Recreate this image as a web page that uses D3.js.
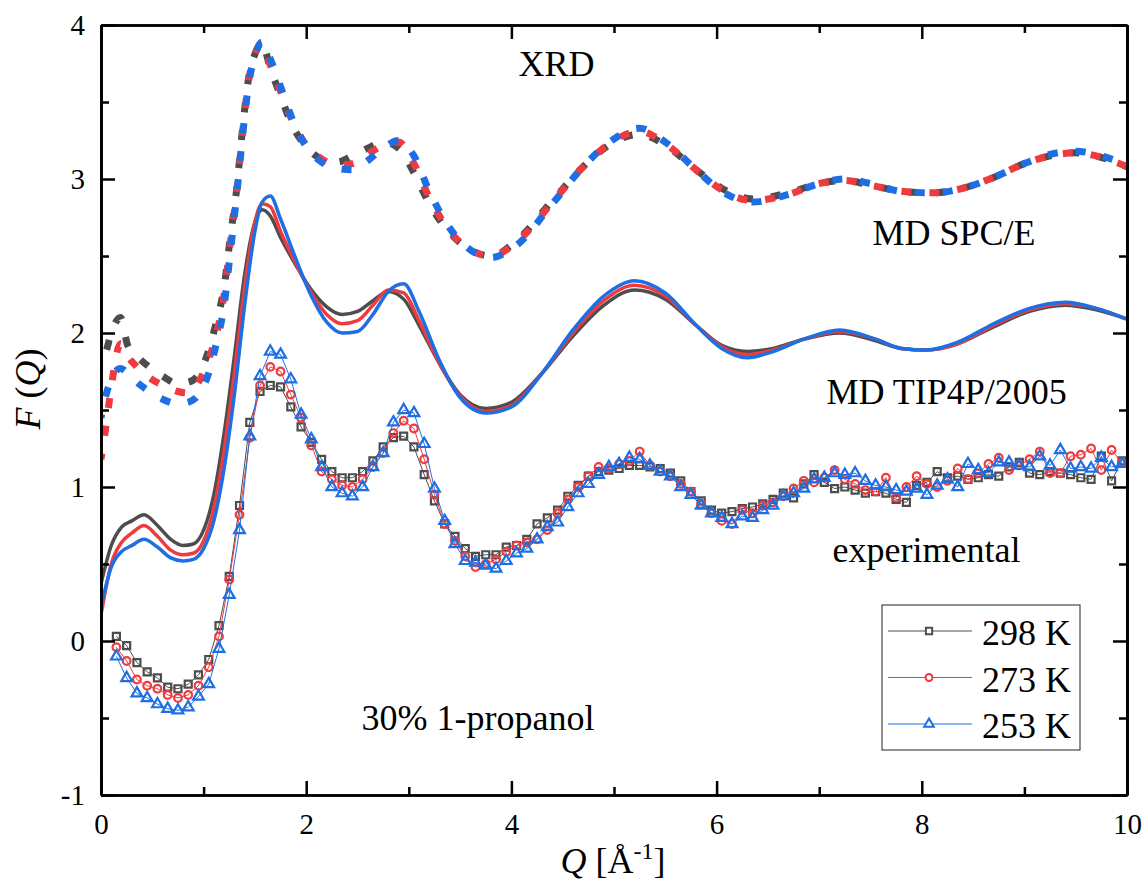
<!DOCTYPE html>
<html>
<head>
<meta charset="utf-8">
<script src="https://cdnjs.cloudflare.com/ajax/libs/d3/7.8.5/d3.min.js"></script>
<style>
  body { margin: 0; background: #fff; }
  svg text { font-family: "Liberation Serif", "Times New Roman", Times, "DejaVu Serif", serif; fill: #000; }
</style>
</head>
<body>
<div id="chart"></div>
<script>
// series names and colours (298 K, 273 K, 253 K)
const temps = ["298 K", "273 K", "253 K"];
const colors = ["#4d4d4d", "#ef3b3f", "#1e6fe3"];

// XRD curves (dashed)
const qXrd = [0, 0.05, 0.1, 0.19, 0.26, 0.35, 0.45, 0.6, 0.75, 0.85, 0.95, 1.05, 1.12, 1.2, 1.26, 1.32, 1.38, 1.44, 1.5, 1.57,
  1.65, 1.75, 1.87, 2.0, 2.15, 2.3, 2.45, 2.6, 2.75, 2.9, 3.05, 3.2, 3.4, 3.6, 3.8, 4.05, 4.4, 4.7, 5.0, 5.25,
  5.5, 5.8, 6.05, 6.35, 6.7, 7.0, 7.25, 7.5, 7.8, 8.1, 8.4, 8.7, 9.0, 9.25, 9.5, 9.8, 10];
const xrd298 = [1.78, 1.88, 2.00, 2.10, 1.92, 1.85, 1.79, 1.72, 1.67, 1.68, 1.73, 1.89, 2.06, 2.30, 2.62, 2.92, 3.33, 3.66, 3.81, 3.88,
  3.72, 3.54, 3.34, 3.21, 3.13, 3.11, 3.15, 3.20, 3.24, 3.20, 3.04, 2.84, 2.65, 2.54, 2.50, 2.60, 2.86, 3.08, 3.24, 3.29,
  3.22, 3.06, 2.94, 2.87, 2.91, 2.97, 2.99, 2.96, 2.92, 2.91, 2.94, 3.01, 3.10, 3.15, 3.17, 3.13, 3.08];
const xrd273 = [1.18, 1.40, 1.65, 1.93, 1.85, 1.78, 1.72, 1.66, 1.62, 1.61, 1.68, 1.83, 1.98, 2.25, 2.58, 2.90, 3.30, 3.64, 3.81, 3.88,
  3.74, 3.57, 3.37, 3.22, 3.13, 3.09, 3.10, 3.16, 3.22, 3.24, 3.10, 2.88, 2.66, 2.54, 2.50, 2.59, 2.85, 3.08, 3.25, 3.31,
  3.23, 3.06, 2.93, 2.86, 2.90, 2.97, 2.99, 2.96, 2.92, 2.91, 2.94, 3.01, 3.10, 3.15, 3.17, 3.13, 3.08];
const xrd253 = [1.45, 1.60, 1.70, 1.77, 1.74, 1.68, 1.63, 1.57, 1.54, 1.55, 1.60, 1.74, 1.92, 2.18, 2.52, 2.88, 3.28, 3.62, 3.80, 3.89,
  3.78, 3.60, 3.38, 3.21, 3.11, 3.07, 3.06, 3.12, 3.20, 3.25, 3.15, 2.92, 2.68, 2.54, 2.49, 2.57, 2.84, 3.08, 3.26, 3.33,
  3.24, 3.06, 2.92, 2.85, 2.90, 2.97, 3.00, 2.97, 2.92, 2.91, 2.94, 3.01, 3.10, 3.16, 3.18, 3.14, 3.09];

// MD curves (solid)
const qMd = [0, 0.1, 0.2, 0.3, 0.42, 0.55, 0.68, 0.8, 0.9, 1.0, 1.1, 1.2, 1.3, 1.4, 1.5, 1.57, 1.65, 1.75, 1.9, 2.05,
  2.2, 2.35, 2.5, 2.65, 2.8, 2.95, 3.1, 3.3, 3.5, 3.75, 4.0, 4.3, 4.6, 4.9, 5.2, 5.5, 5.8, 6.05, 6.3, 6.55,
  6.85, 7.2, 7.55, 7.8, 8.05, 8.35, 8.7, 9.05, 9.4, 9.7, 10];
const md298 = [0.37, 0.62, 0.74, 0.78, 0.82, 0.75, 0.66, 0.62, 0.63, 0.72, 0.95, 1.35, 1.85, 2.38, 2.72, 2.80, 2.76, 2.62, 2.44, 2.28,
  2.17, 2.12, 2.14, 2.21, 2.27, 2.22, 2.05, 1.80, 1.60, 1.51, 1.55, 1.74, 1.98, 2.18, 2.28, 2.22, 2.05, 1.92, 1.88, 1.90,
  1.96, 2.00, 1.95, 1.90, 1.89, 1.93, 2.04, 2.14, 2.18, 2.15, 2.09];
const md273 = [0.17, 0.50, 0.64, 0.70, 0.75, 0.68, 0.59, 0.56, 0.57, 0.65, 0.86, 1.24, 1.74, 2.30, 2.72, 2.84, 2.82, 2.66, 2.45, 2.26,
  2.12, 2.06, 2.08, 2.18, 2.28, 2.26, 2.08, 1.80, 1.59, 1.49, 1.53, 1.74, 2.00, 2.21, 2.31, 2.24, 2.05, 1.91, 1.86, 1.89,
  1.96, 2.01, 1.96, 1.90, 1.89, 1.93, 2.05, 2.15, 2.19, 2.16, 2.09];
const md253 = [0.22, 0.48, 0.58, 0.62, 0.66, 0.61, 0.54, 0.52, 0.53, 0.60, 0.78, 1.12, 1.60, 2.18, 2.66, 2.85, 2.89, 2.74, 2.48, 2.24,
  2.07, 2.00, 2.01, 2.12, 2.27, 2.32, 2.14, 1.82, 1.58, 1.48, 1.52, 1.74, 2.02, 2.24, 2.34, 2.26, 2.05, 1.90, 1.84, 1.88,
  1.96, 2.02, 1.96, 1.90, 1.89, 1.94, 2.06, 2.16, 2.20, 2.16, 2.09];

// experimental points (symbols + thin line)
const qExp = [0.15, 0.25, 0.35, 0.45, 0.55, 0.65, 0.75, 0.85, 0.95, 1.05, 1.15, 1.25, 1.35, 1.45, 1.55, 1.65, 1.75, 1.85, 1.95, 2.05,
  2.15, 2.25, 2.35, 2.45, 2.55, 2.65, 2.75, 2.85, 2.95, 3.05, 3.15, 3.25, 3.35, 3.45, 3.55, 3.65, 3.75, 3.85, 3.95, 4.05,
  4.15, 4.25, 4.35, 4.45, 4.55, 4.65, 4.75, 4.85, 4.95, 5.05, 5.15, 5.25, 5.35, 5.45, 5.55, 5.65, 5.75, 5.85, 5.95, 6.05,
  6.15, 6.25, 6.35, 6.45, 6.55, 6.65, 6.75, 6.85, 6.95, 7.05, 7.15, 7.25, 7.35, 7.45, 7.55, 7.65, 7.75, 7.85, 7.95, 8.05,
  8.15, 8.25, 8.35, 8.45, 8.55, 8.65, 8.75, 8.85, 8.95, 9.05, 9.15, 9.25, 9.35, 9.45, 9.55, 9.65, 9.75, 9.85, 9.95];
const exp298 = [0.03, -0.03, -0.14, -0.20, -0.24, -0.30, -0.31, -0.28, -0.22, -0.12, 0.10, 0.42, 0.88, 1.42, 1.62, 1.66, 1.65, 1.52, 1.39, 1.29,
  1.18, 1.10, 1.06, 1.06, 1.10, 1.17, 1.26, 1.32, 1.33, 1.26, 1.08, 0.91, 0.76, 0.68, 0.60, 0.55, 0.56, 0.56, 0.61, 0.62,
  0.66, 0.76, 0.80, 0.85, 0.94, 1.01, 1.07, 1.10, 1.11, 1.12, 1.14, 1.14, 1.13, 1.12, 1.09, 1.04, 0.97, 0.91, 0.85, 0.83,
  0.84, 0.86, 0.87, 0.89, 0.92, 0.96, 0.93, 1.02, 1.08, 1.03, 0.99, 1.00, 0.98, 0.96, 0.97, 0.96, 0.92, 0.90, 1.01, 1.03,
  1.10, 1.06, 1.07, 1.05, 1.06, 1.08, 1.07, 1.13, 1.16, 1.09, 1.08, 1.10, 1.09, 1.08, 1.06, 1.05, 1.20, 1.04, 1.17];
const exp273 = [-0.04, -0.13, -0.25, -0.29, -0.31, -0.35, -0.37, -0.35, -0.29, -0.17, 0.03, 0.40, 0.82, 1.32, 1.66, 1.78, 1.75, 1.60, 1.45, 1.27,
  1.10, 1.05, 1.01, 1.00, 1.05, 1.13, 1.22, 1.35, 1.43, 1.38, 1.18, 0.95, 0.76, 0.65, 0.55, 0.48, 0.50, 0.53, 0.58, 0.62,
  0.64, 0.66, 0.72, 0.83, 0.92, 1.00, 1.07, 1.13, 1.12, 1.15, 1.17, 1.23, 1.14, 1.10, 1.07, 1.02, 0.97, 0.89, 0.83, 0.78,
  0.76, 0.85, 0.83, 0.88, 0.90, 0.94, 0.99, 1.04, 1.03, 1.06, 1.11, 1.05, 1.02, 0.98, 0.97, 1.06, 0.93, 1.00, 1.07, 1.02,
  1.00, 1.04, 1.12, 1.05, 1.09, 1.15, 1.19, 1.11, 1.14, 1.18, 1.23, 1.09, 1.09, 1.20, 1.21, 1.25, 1.11, 1.24, 1.16];
const exp253 = [-0.10, -0.24, -0.34, -0.37, -0.41, -0.44, -0.45, -0.43, -0.36, -0.28, -0.05, 0.30, 0.72, 1.33, 1.72, 1.88, 1.86, 1.70, 1.47, 1.31,
  1.13, 1.00, 0.96, 0.94, 1.00, 1.13, 1.22, 1.42, 1.50, 1.48, 1.28, 0.99, 0.78, 0.63, 0.52, 0.51, 0.49, 0.47, 0.52, 0.57,
  0.60, 0.66, 0.74, 0.77, 0.87, 0.96, 1.02, 1.08, 1.13, 1.15, 1.19, 1.18, 1.14, 1.10, 1.07, 1.00, 0.95, 0.88, 0.83, 0.80,
  0.76, 0.81, 0.80, 0.85, 0.88, 0.94, 0.96, 0.99, 1.05, 1.06, 1.09, 1.08, 1.09, 1.04, 1.01, 1.00, 0.98, 0.97, 0.99, 0.95,
  1.01, 1.05, 1.00, 1.15, 1.11, 1.09, 1.16, 1.16, 1.14, 1.13, 1.20, 1.14, 1.24, 1.12, 1.13, 1.12, 1.19, 1.13, 1.15];

const xTicks = [0, 2, 4, 6, 8, 10];
const yTicks = [-1, 0, 1, 2, 3, 4];

// text labels inside the plot
const notes = [
  { text: "XRD", q: 4.07, f: 3.67 },
  { text: "MD SPC/E", q: 7.52, f: 2.57 },
  { text: "MD TIP4P/2005", q: 7.07, f: 1.54 },
  { text: "experimental", q: 7.13, f: 0.51 },
  { text: "30% 1-propanol", q: 2.54, f: -0.58 }
];

(function() {
  const width = 1147, height = 884;
  const margin = { left: 101, right: 20, top: 25, bottom: 89 };
  const serif = '"Liberation Serif", "Times New Roman", Times, "DejaVu Serif", serif';

  const svg = d3.select("#chart").append("svg")
    .attr("width", width)
    .attr("height", height)
    .style("font-family", serif);

  const x = d3.scaleLinear().domain([0, 10]).range([margin.left, width - margin.right]);
  const y = d3.scaleLinear().domain([-1, 4]).range([height - margin.bottom, margin.top]);

  svg.append("clipPath").attr("id", "plot-clip")
    .append("rect")
    .attr("x", x(0)).attr("y", y(4))
    .attr("width", x(10) - x(0)).attr("height", y(-1) - y(4));

  const plot = svg.append("g").attr("clip-path", "url(#plot-clip)");

  const line = d3.line()
    .x(d => x(d[0]))
    .y(d => y(d[1]))
    .curve(d3.curveMonotoneX);

  const zip = (qs, vs) => qs.map((q, i) => [q, vs[i]]);

  // XRD dashed curves; dash phase is pinned at Q = 4 so the colours interleave like the original
  const dashPeriod = 28;
  const phaseAt4 = [0, 12, 14];
  const cut = qXrd.indexOf(4.05);
  [xrd298, xrd273, xrd253].forEach((vals, i) => {
    const pts = zip(qXrd, vals);
    const probe = plot.append("path").attr("d", line(pts.slice(0, cut + 1)));
    const len = probe.node().getTotalLength();
    probe.remove();

    plot.append("path")
      .datum(pts)
      .attr("fill", "none")
      .attr("stroke", colors[i])
      .attr("stroke-width", 7)
      .attr("stroke-dasharray", "10 " + (dashPeriod - 10))
      .attr("stroke-dashoffset", ((len - phaseAt4[i]) % dashPeriod + dashPeriod) % dashPeriod)
      .attr("d", line);
  });

  // MD solid curves
  [md298, md273, md253].forEach((vals, i) => {
    plot.append("path")
      .datum(zip(qMd, vals))
      .attr("fill", "none")
      .attr("stroke", colors[i])
      .attr("stroke-width", 3.5)
      .attr("d", line);
  });

  // experimental: thin lines then symbols
  const symbols = [d3.symbolSquare, d3.symbolCircle, d3.symbolTriangle];
  const symbolSizes = [49, 46, 50];
  const straight = d3.line().x(d => x(d[0])).y(d => y(d[1]));

  [exp298, exp273, exp253].forEach((vals, i) => {
    const pts = zip(qExp, vals);
    plot.append("path")
      .datum(pts)
      .attr("fill", "none")
      .attr("stroke", colors[i])
      .attr("stroke-width", 1)
      .attr("d", straight);

    plot.selectAll(".pt" + i)
      .data(pts)
      .enter().append("path")
        .attr("class", "pt" + i)
        .attr("transform", d => "translate(" + x(d[0]) + "," + y(d[1]) + ")")
        .attr("d", d3.symbol().type(symbols[i]).size(symbolSizes[i]))
        .attr("fill", "none")
        .attr("stroke", colors[i])
        .attr("stroke-width", 2.2);
  });

  // axes: major + minor ticks on all four sides, pointing inward
  const fmt = d => String(d).replace("\u2212", "-");
  const xMinor = [1, 3, 5, 7, 9];
  const yMinor = [-0.5, 0.5, 1.5, 2.5, 3.5];

  function styleAxis(g) {
    g.attr("font-family", null).attr("font-size", null);
    g.select(".domain").attr("stroke", "#000").attr("stroke-width", 2.7);
    g.selectAll(".tick line").attr("stroke", "#000").attr("stroke-width", 2.5);
    g.selectAll(".tick text")
      .attr("fill", "#000")
      .style("font-family", serif)
      .style("font-size", "29px");
  }

  svg.append("g")
    .attr("transform", "translate(0," + y(-1) + ")")
    .call(d3.axisBottom(x).tickValues(xTicks).tickFormat(fmt).tickSize(-14).tickSizeOuter(0).tickPadding(18))
    .call(styleAxis);
  svg.append("g")
    .attr("transform", "translate(0," + y(-1) + ")")
    .call(d3.axisBottom(x).tickValues(xMinor).tickFormat("").tickSize(-8).tickSizeOuter(0))
    .call(styleAxis);
  svg.append("g")
    .attr("transform", "translate(0," + y(4) + ")")
    .call(d3.axisTop(x).tickValues(xTicks).tickFormat("").tickSize(-14).tickSizeOuter(0))
    .call(styleAxis);
  svg.append("g")
    .attr("transform", "translate(0," + y(4) + ")")
    .call(d3.axisTop(x).tickValues(xMinor).tickFormat("").tickSize(-8).tickSizeOuter(0))
    .call(styleAxis);

  svg.append("g")
    .attr("transform", "translate(" + x(0) + ",0)")
    .call(d3.axisLeft(y).tickValues(yTicks).tickFormat(fmt).tickSize(-14).tickSizeOuter(0).tickPadding(16))
    .call(styleAxis);
  svg.append("g")
    .attr("transform", "translate(" + x(0) + ",0)")
    .call(d3.axisLeft(y).tickValues(yMinor).tickFormat("").tickSize(-8).tickSizeOuter(0))
    .call(styleAxis);
  svg.append("g")
    .attr("transform", "translate(" + x(10) + ",0)")
    .call(d3.axisRight(y).tickValues(yTicks).tickFormat("").tickSize(-14).tickSizeOuter(0))
    .call(styleAxis);
  svg.append("g")
    .attr("transform", "translate(" + x(10) + ",0)")
    .call(d3.axisRight(y).tickValues(yMinor).tickFormat("").tickSize(-8).tickSizeOuter(0))
    .call(styleAxis);

  // axis titles
  const xTitle = svg.append("text")
    .attr("x", 613).attr("y", 873)
    .attr("text-anchor", "middle")
    .style("font-size", "36px");
  xTitle.append("tspan").style("font-style", "italic").text("Q");
  xTitle.append("tspan").text(" [Å");
  xTitle.append("tspan").attr("dy", -14).style("font-size", "24px").text("-1");
  xTitle.append("tspan").attr("dy", 14).text("]");

  const yTitle = svg.append("text")
    .attr("transform", "translate(40,389) rotate(-90)")
    .attr("text-anchor", "middle")
    .style("font-size", "36px");
  yTitle.append("tspan").style("font-style", "italic").text("F");
  yTitle.append("tspan").text(" (");
  yTitle.append("tspan").style("font-style", "italic").text("Q");
  yTitle.append("tspan").text(")");

  // in-plot labels
  svg.selectAll(".note")
    .data(notes)
    .enter().append("text")
      .attr("class", "note")
      .attr("x", d => x(d.q))
      .attr("y", d => y(d.f))
      .style("font-size", "36px")
      .text(d => d.text);

  // legend
  const legend = svg.append("g").attr("transform", "translate(882,605)");
  legend.append("rect")
    .attr("width", 198).attr("height", 145)
    .attr("fill", "#fff")
    .attr("stroke", "#222")
    .attr("stroke-width", 1);

  temps.forEach((t, i) => {
    const row = legend.append("g").attr("transform", "translate(0," + (26 + i * 46.5) + ")");
    row.append("line")
      .attr("x1", 6).attr("x2", 90)
      .attr("stroke", colors[i])
      .attr("stroke-width", 1);
    row.append("path")
      .attr("transform", "translate(47,0)")
      .attr("d", d3.symbol().type(symbols[i]).size(symbolSizes[i] * 0.8))
      .attr("fill", "#fff")
      .attr("stroke", colors[i])
      .attr("stroke-width", 2);
    row.append("text")
      .attr("x", 100).attr("y", 14)
      .style("font-size", "36px")
      .text(t);
  });
})();
</script>
</body>
</html>
